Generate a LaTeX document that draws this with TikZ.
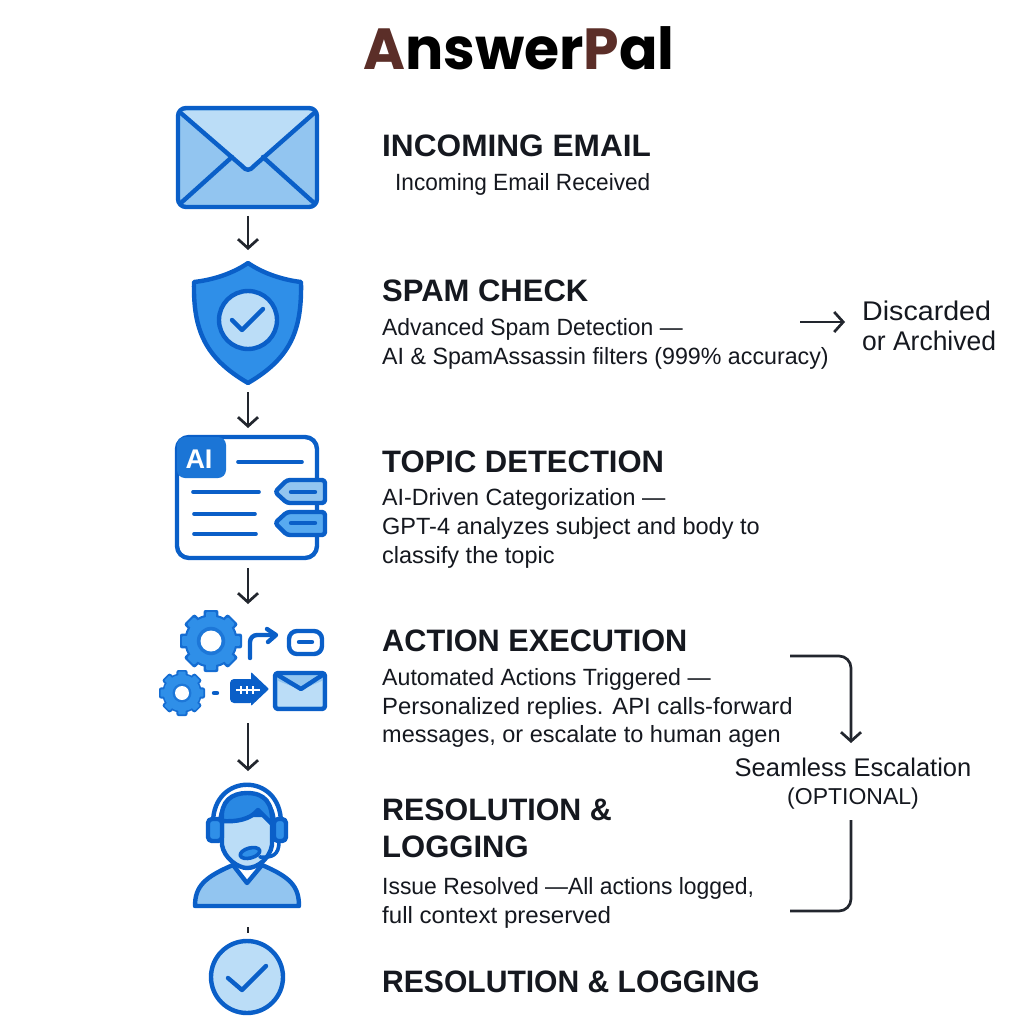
\documentclass[tikz,border=0pt]{standalone}
\usepackage{fontspec}
\usetikzlibrary{arrows.meta,calc}
\setmainfont{Liberation Sans}
\newfontfamily\titlefont{Poppins}
\definecolor{ink}{HTML}{15181F}
\definecolor{arrowink}{HTML}{22262E}
\definecolor{bluestroke}{HTML}{0A5FC8}
\definecolor{lightblue}{HTML}{BBDDF7}
\definecolor{midblue}{HTML}{92C5F0}
\definecolor{strongblue}{HTML}{2F8FE8}
\definecolor{tagblue}{HTML}{58AAF0}
\definecolor{brownA}{HTML}{5B2E28}
\newcommand{\fx}[2]{\scalebox{#1}[1]{#2}}
\tikzset{
  head/.style={anchor=base west,inner sep=0pt,text=ink,font=\fontsize{31}{31}\selectfont\bfseries},
  body/.style={anchor=base west,inner sep=0pt,text=ink,font=\fontsize{23.5}{23.5}\selectfont},
  side/.style={anchor=base west,inner sep=0pt,text=ink,font=\fontsize{27}{27}\selectfont},
  flow/.style={draw=arrowink,line width=2.7pt,-{Straight Barb[length=9pt,width=20pt,line width=2.7pt]}},
  plain/.style={draw=arrowink,line width=2.7pt},
  ico/.style={draw=bluestroke,line width=4.4pt,line join=round,line cap=round},
  icothin/.style={draw=bluestroke,line width=3.6pt,line join=round,line cap=round},
}
\newcommand{\gearicon}[4]{% x y outer hole
  \foreach \a in {0,45,...,315}{
    \fill[bluestroke!70!strongblue,rotate around={\a:(#1,#2)},rounded corners=2pt]
      ($(#1,#2)+(-#3*0.24,-#3)$) rectangle ($(#1,#2)+(#3*0.24,0)$);
  }
  \fill[bluestroke!70!strongblue] (#1,#2) circle[radius=#3*0.86];
  \foreach \a in {0,45,...,315}{
    \fill[strongblue,rotate around={\a:(#1,#2)},rounded corners=1pt]
      ($(#1,#2)+(-#3*0.16,-#3*0.93)$) rectangle ($(#1,#2)+(#3*0.16,0)$);
  }
  \fill[strongblue] (#1,#2) circle[radius=#3*0.79];
  \fill[bluestroke!50!strongblue] (#1,#2) circle[radius=#4*1.35];
  \fill[white] (#1,#2) circle[radius=#4];
}
\begin{document}
\begin{tikzpicture}[x=1pt,y=-1pt]
\useasboundingbox (0,0) rectangle (1024,1024);
\fill[white] (0,0) rectangle (1024,1024);

% title
\node[anchor=base west,inner sep=0pt,font=\fontsize{58}{58}\titlefont\bfseries] (title) at (363,70)
  {\fx{0.98}{\textcolor{brownA}{A}\textcolor{black}{nswer}\textcolor{brownA}{P}\textcolor{black}{al}}};

% envelope
\fill[midblue,rounded corners=8pt] (177,108) rectangle (318,207);
\fill[lightblue] (180,111) -- (248,171) -- (315,111) -- cycle;
\draw[ico] (182,114) -- (242,166) .. controls (246,171) and (250,171) .. (254,166) -- (313,114);
\draw[ico] (182,202) -- (232,157) (313,202) -- (263,157);
\draw[ico,rounded corners=8pt] (178,108) rectangle (317,207);

% shield
\draw[ico,fill=strongblue] (248,263) .. controls (232,274) and (212,280) .. (194,282)
  .. controls (193,330) and (205,358) .. (248,383)
  .. controls (291,358) and (302,330) .. (301,282)
  .. controls (284,280) and (264,274) .. (248,263) -- cycle;
\draw[ico,fill=lightblue] (248,320) circle[radius=29];
\draw[ico] (232,320) -- (242,330) -- (263,309);

% topic icon
\draw[ico,fill=white,rounded corners=12pt] (177,437) rectangle (317,558);
\fill[strongblue!45!bluestroke,rounded corners=8pt] (177,437) -- (226,437) -- (226,478) -- (177,478) -- cycle;
\node[inner sep=0pt,text=white,font=\fontsize{27}{27}\selectfont\bfseries] (ailabel) at (199,459) {AI};
\draw[icothin] (238,462) -- (302,462) (193,492) -- (259,492) (194,514) -- (255,514) (194,534) -- (256,534);
\draw[ico,fill=midblue,rounded corners=3pt] (325,480) -- (287,480) -- (275,492) -- (287,503) -- (325,503) -- cycle;
\draw[ico,fill=tagblue,rounded corners=3pt] (325,512) -- (287,512) -- (275,523) -- (287,535) -- (325,535) -- cycle;
\draw[ico] (291,492) -- (315,492) (291,523) -- (315,523);

% action icon
\gearicon{211}{641}{31}{10.5}
\gearicon{182}{693}{23}{7}
\draw[ico,rounded corners=7pt] (250,658) -- (250,635) -- (272,635);
\draw[ico] (267,629) -- (276,635) -- (268,642);
\draw[ico,rounded corners=8pt] (289,631) rectangle (322,654);
\draw[ico] (299,642) -- (312,642);
\draw[ico] (214,693) -- (217,693);
\fill[bluestroke,rounded corners=4pt] (230,679) rectangle (254,703);
\fill[bluestroke,rounded corners=1pt] (251,672) -- (269,689) -- (251,706) -- cycle;
\draw[white,line width=1.3pt] (236,690) -- (260,690) (241,686) -- (241,694) (247,686) -- (247,694) (253,686) -- (253,694);
\draw[ico,fill=midblue,rounded corners=3pt] (275,673) rectangle (325,709);
\fill[lightblue] (278,681) -- (301,690) -- (322,681) -- (322,706) -- (278,706) -- cycle;
\draw[ico] (276,674) -- (301,689) -- (324,674);

% agent icon
\draw[ico] (213,823) .. controls (213,772) and (281,772) .. (281,823);
\draw[bluestroke,line width=1.8pt] (219,823) .. controls (219,783) and (275,783) .. (275,823);
\fill[white] (233,864) -- (247,884) -- (262,864) -- cycle;
\draw[ico,fill=midblue] (195,906) .. controls (195,886) and (205,877) .. (233,865) -- (247,883) -- (262,865)
  .. controls (290,877) and (299,886) .. (299,906) -- cycle;
\draw[ico,fill=lightblue] (222,815) -- (222,845) .. controls (224,858) and (238,868) .. (247,868)
  .. controls (258,868) and (270,858) .. (272,845) -- (272,815) -- cycle;
\draw[ico,fill=strongblue!85!bluestroke] (222,821) .. controls (220,801) and (232,793) .. (247,793)
  .. controls (265,793) and (273,803) .. (272,824) -- (258,810) .. controls (250,820) and (235,822) .. (222,821) -- cycle;
\draw[ico,fill=strongblue,rounded corners=4pt] (208,819) rectangle (222,841);
\draw[ico,fill=strongblue,rounded corners=4pt] (274,819) rectangle (286,841);
\draw[icothin] (279,842) .. controls (279,855) and (272,858) .. (260,857);
\draw[icothin,fill=strongblue,rotate around={15:(250,853)}] (250,853) ellipse[x radius=10,y radius=5];

% final check icon
\draw[ico,fill=lightblue] (247,977) circle[radius=36];
\draw[ico] (228,978) -- (242,990) -- (266,966);

% connector ends
\coordinate (e1) at (248,216); \coordinate (s1) at (248,250);
\coordinate (e2) at (248,392); \coordinate (s2) at (248,428);
\coordinate (e3) at (248,568); \coordinate (s3) at (248,604);
\coordinate (e4) at (248,723); \coordinate (s4) at (248,771);
\coordinate (e5) at (248,927); \coordinate (s5) at (248,933);
\draw[flow] (e1) -- (s1);
\draw[flow] (e2) -- (s2);
\draw[flow] (e3) -- (s3);
\draw[flow] (e4) -- (s4);
\draw[plain] (e5) -- (s5);

% texts
\node[head] (h1) at (382,157) {\fx{1.02}{INCOMING EMAIL}};
\node[body] (b1) at (395,191) {\fx{0.962}{Incoming Email Received}};
\node[head] (h2) at (382,301) {SPAM CHECK};
\node[body] (b2a) at (382,335) {\fx{0.975}{Advanced Spam Detection —}};
\node[body] (b2b) at (382,364) {\fx{0.988}{AI \& SpamAssassin filters (999\% accuracy)}};
\node[side] (disc1) at (862,320) {\fx{1.06}{Discarded}};
\node[side] (disc2) at (862,350) {\fx{0.98}{or Archived}};
\coordinate (spamout) at (800,322);
\coordinate (discin) at (845,322);
\draw[flow] (spamout) -- (discin);
\node[head] (h3) at (382,472) {TOPIC DETECTION};
\node[body] (b3a) at (382,505) {\fx{0.99}{AI-Driven Categorization —}};
\node[body] (b3b) at (382,534) {GPT-4 analyzes subject and body to};
\node[body] (b3c) at (382,563) {classify the topic};
\node[head] (h4) at (382,651) {\fx{0.99}{ACTION EXECUTION}};
\node[body] (b4a) at (382,685) {\fx{0.985}{Automated Actions Triggered —}};
\node[body] (b4b) at (382,714) {\fx{1.015}{Personalized replies. API calls-forward}};
\node[body] (b4c) at (382,742) {messages, or escalate to human agen};
\node[head] (h5a) at (382,820) {\fx{0.98}{RESOLUTION \&}};
\node[head] (h5b) at (382,857) {LOGGING};
\node[body] (b5a) at (382,894) {\fx{0.975}{Issue Resolved —All actions logged,}};
\node[body] (b5b) at (382,923) {\fx{1.025}{full context preserved}};
\node[head] (h6) at (382,992) {\fx{0.97}{RESOLUTION \& LOGGING}};
\node[anchor=base,inner sep=0pt,text=ink,font=\fontsize{25.5}{25.5}\selectfont] (esc1) at (853,776) {Seamless Escalation};
\node[anchor=base,inner sep=0pt,text=ink,font=\fontsize{23}{23}\selectfont] (esc2) at (853,804) {(OPTIONAL)};
\coordinate (t1) at (790,656); \coordinate (t2) at (851,656); \coordinate (t3) at (851,743);
\coordinate (u1) at (851,820); \coordinate (u2) at (851,911); \coordinate (u3) at (790,911);
\draw[flow,rounded corners=12pt] (t1) -- (t2) -- (t3);
\draw[plain,rounded corners=12pt] (u1) -- (u2) -- (u3);
\end{tikzpicture}
\end{document}
